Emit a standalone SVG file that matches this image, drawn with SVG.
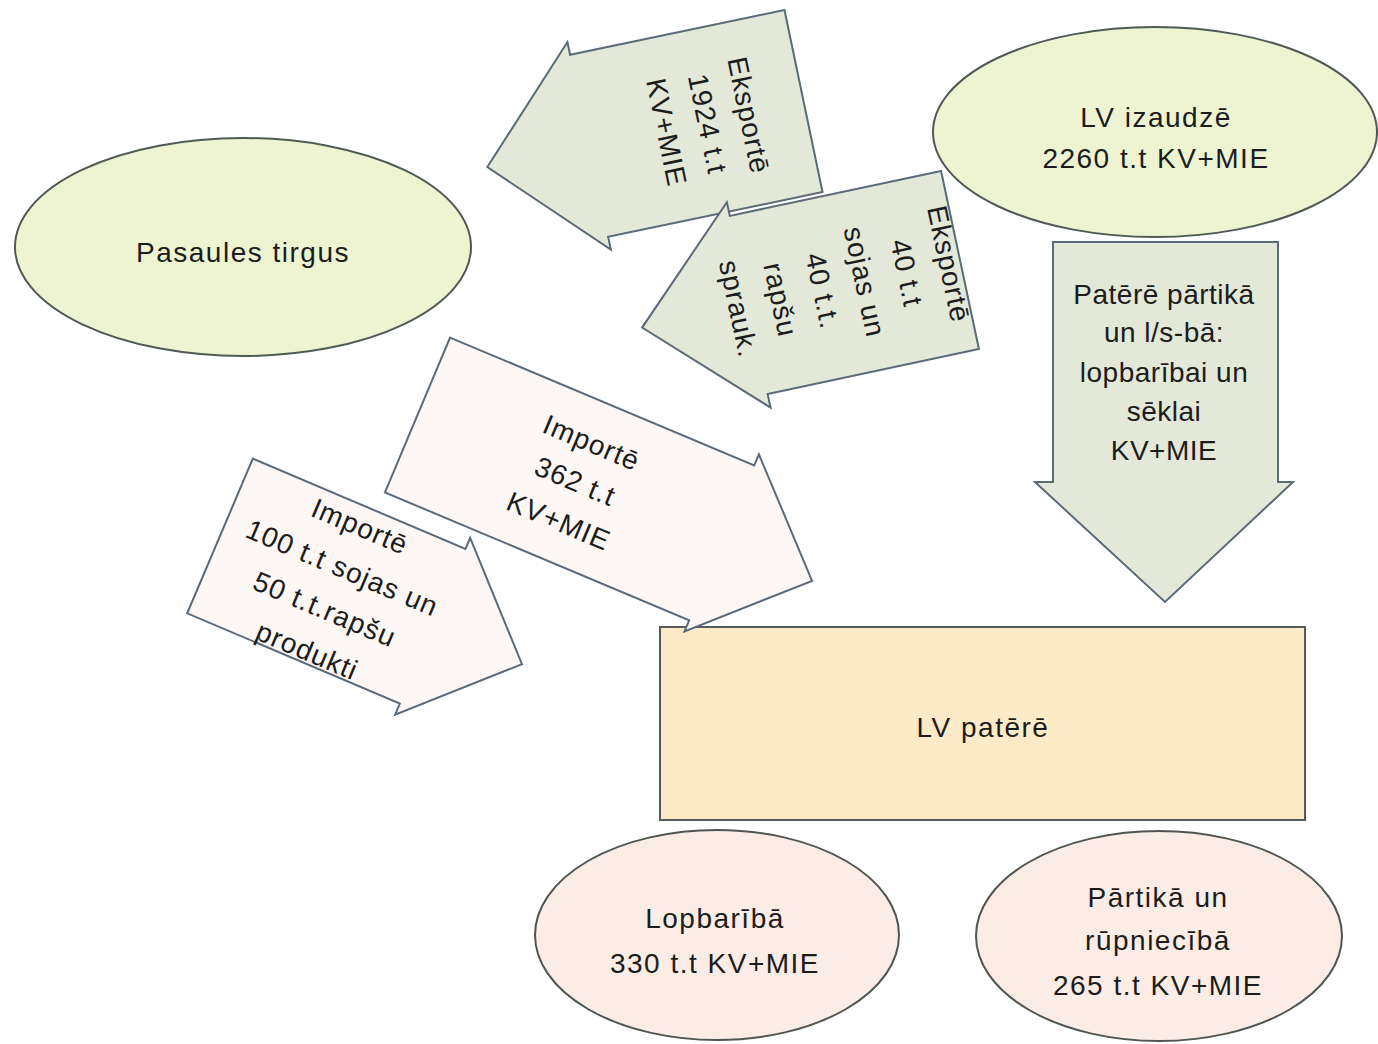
<svg xmlns="http://www.w3.org/2000/svg" width="1378" height="1044" viewBox="0 0 1378 1044">
<style>
  text { font-family: "Liberation Sans", Arial, sans-serif; font-size: 28px; fill: #1c1c1c; text-anchor: middle; letter-spacing: 1.5px; }
  .rot { letter-spacing: 1px; }
  .ell-green { fill: #EEF4D2; stroke: #4f5a55; stroke-width: 2; }
  .ell-peach { fill: #FBEDE5; stroke: #4f5552; stroke-width: 2; }
  .rect-main { fill: #FDEBC7; stroke: #555a5a; stroke-width: 2; }
  .arr-export { fill: #E3E8D8; stroke: #5a6a78; stroke-width: 2; stroke-linejoin: miter; }
  .arr-import { fill: #FDF8F6; stroke: #5a6a78; stroke-width: 2; stroke-linejoin: miter; }
</style>
<rect width="1378" height="1044" fill="#ffffff"/>

<g id="pasaules-tirgus">
  <ellipse class="ell-green" cx="243" cy="247" rx="228" ry="109"/>
  <text x="243" y="262">Pasaules tirgus</text>
</g>

<g id="lv-izaudze">
  <ellipse class="ell-green" cx="1155" cy="132" rx="222" ry="105"/>
  <text x="1156" y="127">LV izaudzē</text>
  <text x="1156" y="168">2260 t.t KV+MIE</text>
</g>

<g id="lv-patere">
  <rect class="rect-main" x="660" y="627" width="645" height="193"/>
  <text x="983" y="737">LV patērē</text>
</g>

<g id="lopbariba">
  <ellipse class="ell-peach" cx="717" cy="935" rx="182" ry="105"/>
  <text x="715" y="928">Lopbarībā</text>
  <text x="715" y="973">330 t.t KV+MIE</text>
</g>

<g id="partika">
  <ellipse class="ell-peach" cx="1159" cy="936" rx="183" ry="105"/>
  <text x="1158" y="907">Pārtikā un</text>
  <text x="1158" y="950">rūpniecībā</text>
  <text x="1158" y="995">265 t.t KV+MIE</text>
</g>

<g id="connectors">
  <g id="eksports-1924">
    <path class="arr-export" transform="translate(803.5,101) rotate(-11.8)" d="M0,-93 L-219,-93 L-219,-106 L-323,0 L-219,106 L-219,93 L0,93 Z"/>
    <g transform="translate(707,124) rotate(78.2)">
      <text class="rot" x="0" y="-33">Eksportē</text>
      <text class="rot" x="0" y="9">1924 t.t</text>
      <text class="rot" x="0" y="51">KV+MIE</text>
    </g>
  </g>

  <g id="eksports-40">
    <path class="arr-export" transform="translate(960,260) rotate(-12)" d="M0,-91 L-216,-91 L-216,-105 L-325,0 L-216,105 L-216,91 L0,91 Z"/>
    <g transform="translate(843,286.5) rotate(78)">
      <text class="rot" x="0" y="-98.5">Eksportē</text>
      <text class="rot" x="0" y="-55.5">40 t.t</text>
      <text class="rot" x="0" y="-12.5">sojas un</text>
      <text class="rot" x="0" y="30.5">40 t.t.</text>
      <text class="rot" x="0" y="73.5">rapšu</text>
      <text class="rot" x="0" y="116.5">sprauk.</text>
    </g>
  </g>

  <g id="patere-partika">
    <path class="arr-export" d="M1053,242 L1278,242 L1278,482 L1293,482 L1165,602 L1035,482 L1053,482 Z"/>
    <text class="rot" x="1164" y="304" style="letter-spacing:0.5px">Patērē pārtikā</text>
    <text class="rot" x="1164" y="342" style="letter-spacing:0.5px">un l/s-bā:</text>
    <text class="rot" x="1164" y="382" style="letter-spacing:0.5px">lopbarībai un</text>
    <text class="rot" x="1164" y="421" style="letter-spacing:0.5px">sēklai</text>
    <text class="rot" x="1164" y="460" style="letter-spacing:0.5px">KV+MIE</text>
  </g>

  <g id="imports-362">
    <path class="arr-import" transform="translate(417.5,415) rotate(22.8)" d="M0,-84 L330,-84 L330,-96 L428,0 L330,96 L330,84 L0,84 Z"/>
    <g transform="translate(575,482) rotate(22.8)">
      <text class="rot" x="0" y="-33">Importē</text>
      <text class="rot" x="0" y="9">362 t.t</text>
      <text class="rot" x="0" y="52">KV+MIE</text>
    </g>
  </g>

  <g id="imports-100">
    <path class="arr-import" transform="translate(220,536) rotate(23)" d="M0,-84 L231,-84 L231,-96 L328,0 L231,96 L231,84 L0,84 Z"/>
    <g transform="translate(335,585) rotate(23)">
      <text class="rot" x="0" y="-54">Importē</text>
      <text class="rot" x="0" y="-9">100 t.t sojas un</text>
      <text class="rot" x="0" y="36">50 t.t.rapšu</text>
      <text class="rot" x="0" y="81">produkti</text>
    </g>
  </g>
</g>
</svg>
